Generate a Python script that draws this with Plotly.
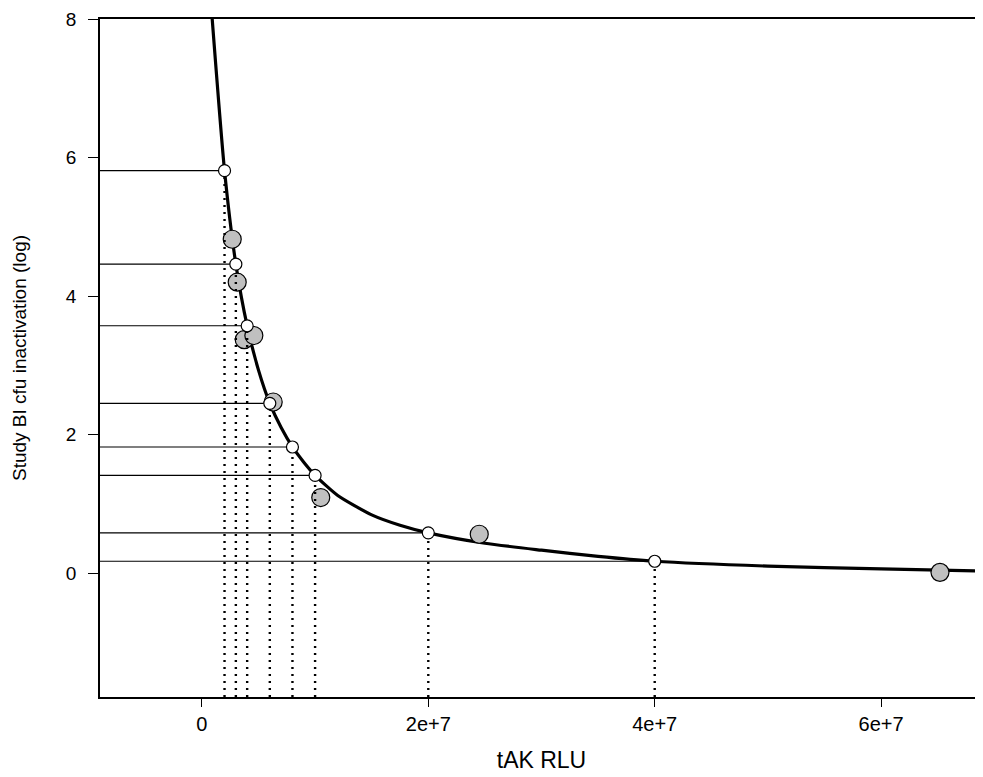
import plotly.graph_objects as go

# Standard points (white circles) used for the reference lines
std_x = [2e6, 3e6, 4e6, 6e6, 8e6, 1e7, 2e7, 4e7]
std_y = [5.81, 4.46, 3.57, 2.45, 1.82, 1.41, 0.58, 0.17]

# Study BI observations (grey circles)
obs_x = [2.68e6, 3.12e6, 3.74e6, 4.59e6, 6.30e6, 1.05e7, 2.45e7, 6.52e7]
obs_y = [4.82, 4.20, 3.37, 3.43, 2.47, 1.09, 0.56, 0.01]

# Fitted curve
curve_x = [0.91e6, 2e6, 3e6, 4e6, 5e6, 6e6, 7e6, 8e6, 9e6, 1e7, 1.2e7, 1.5e7,
           1.75e7, 2e7, 2.5e7, 3e7, 3.5e7, 4e7, 5e7, 6e7, 6.9e7]
curve_y = [8.0, 5.81, 4.46, 3.57, 2.93, 2.45, 2.10, 1.82, 1.60, 1.41, 1.12, 0.84,
           0.69, 0.58, 0.43, 0.33, 0.24, 0.17, 0.10, 0.06, 0.03]

x_ticks = [0, 2e7, 4e7, 6e7]
x_tick_labels = ["0", "2e+7", "4e+7", "6e+7"]
y_ticks = [0, 2, 4, 6, 8]
y_tick_labels = ["0", "2", "4", "6", "8"]

x_range = [-0.9e7, 6.9e7]
y_range = [-1.79, 8.0]

FONT = "Liberation Sans, Arial, sans-serif"

fig = go.Figure()

fig.add_trace(go.Scatter(x=curve_x, y=curve_y, mode="lines",
                         line=dict(color="black", width=3.2, shape="spline", smoothing=0.6),
                         hoverinfo="skip"))

fig.add_trace(go.Scatter(x=obs_x, y=obs_y, mode="markers",
                         marker=dict(size=18, color="#c0c0c0",
                                     line=dict(color="black", width=1.2))))

for xv, yv in zip(std_x, std_y):
    fig.add_trace(go.Scatter(x=[x_range[0], xv], y=[yv, yv], mode="lines",
                             line=dict(color="black", width=1.1), hoverinfo="skip"))
    fig.add_trace(go.Scatter(x=[xv, xv], y=[y_range[0], yv], mode="lines",
                             line=dict(color="black", width=2.4, dash="2px,5px"),
                             hoverinfo="skip"))

fig.add_trace(go.Scatter(x=std_x, y=std_y, mode="markers",
                         marker=dict(size=12, color="white",
                                     line=dict(color="black", width=1.2))))

fig.update_layout(
    width=975, height=769,
    margin=dict(l=92, r=0, t=11, b=80),
    paper_bgcolor="white", plot_bgcolor="white",
    showlegend=False,
    font=dict(family=FONT, size=19, color="black"),
    xaxis=dict(range=x_range, tickvals=x_ticks, ticktext=x_tick_labels,
               tickfont=dict(family=FONT, size=20, color="black"),
               showgrid=False, zeroline=False, showline=True, linecolor="black",
               linewidth=1.5, mirror=True, ticks="outside", ticklen=8,
               tickwidth=1.2, tickcolor="black",
               title=dict(text="tAK RLU", font=dict(family=FONT, size=23), standoff=18)),
    yaxis=dict(range=y_range, tickvals=y_ticks, ticktext=y_tick_labels,
               tickfont=dict(family=FONT, size=19, color="black"),
               ticklabelstandoff=8,
               showgrid=False, zeroline=False, showline=True, linecolor="black",
               linewidth=1.5, ticks="outside", ticklen=10,
               tickwidth=1.2, tickcolor="black",
               title=dict(text="Study BI cfu inactivation (log)", font=dict(family=FONT, size=19), standoff=34)),
)

fig.write_html("out.html")
